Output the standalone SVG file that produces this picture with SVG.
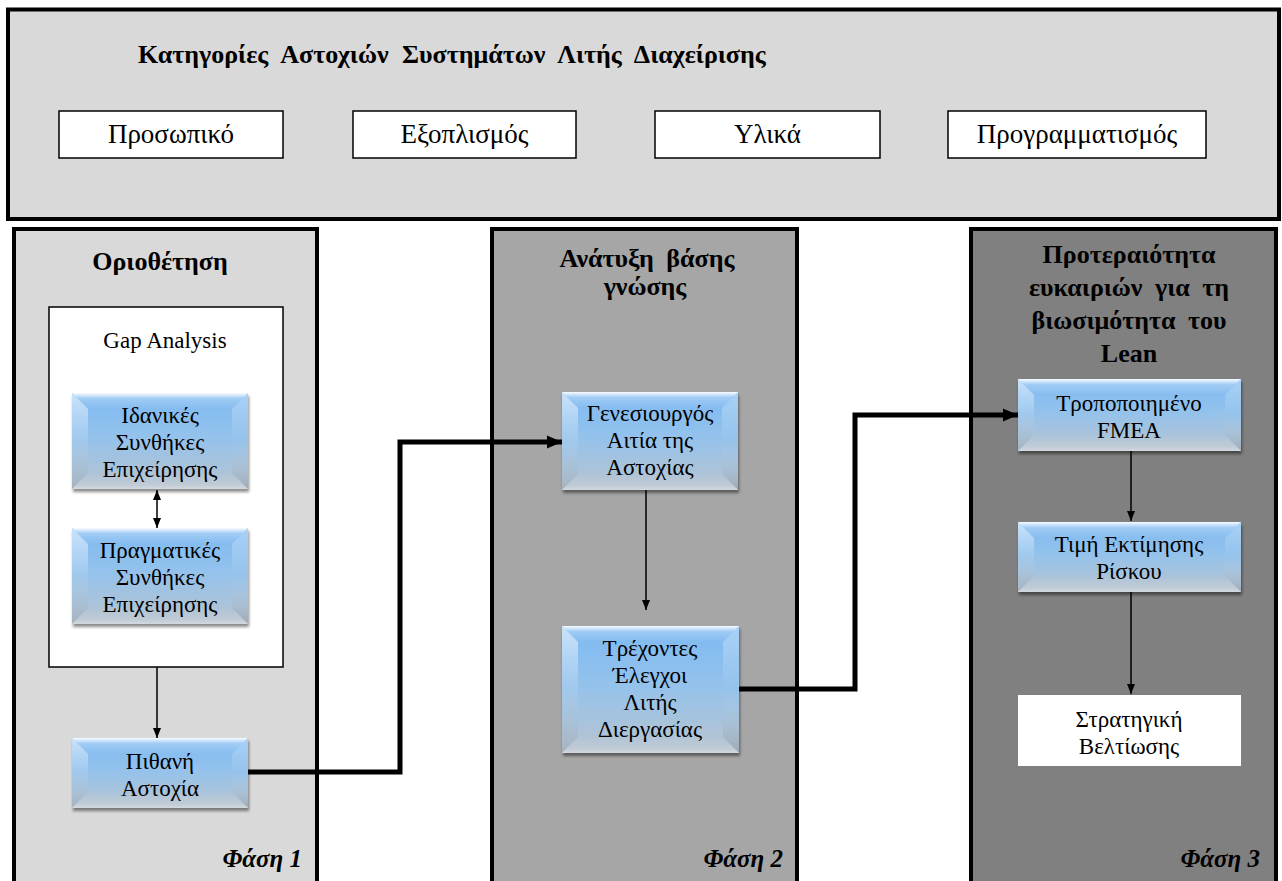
<svg xmlns="http://www.w3.org/2000/svg" width="1282" height="881" viewBox="0 0 1282 881">
  <style>
    text { font-family: "Liberation Serif", "DejaVu Serif", serif; fill: #000; }
    .title { font-size: 26px; font-weight: bold; word-spacing: 7px; }
    .cat { font-size: 27px; text-anchor: middle; }
    .ph { font-size: 26px; font-weight: bold; text-anchor: middle; word-spacing: 6px; }
    .lbl { font-size: 23px; text-anchor: middle; }
    .phase { font-size: 25px; font-weight: bold; font-style: italic; text-anchor: end; }
    .panel { stroke: #000; stroke-width: 4; }
    .catbox { fill: #fff; stroke: #000; stroke-width: 1.5; }
    .base { fill: url(#gBase); filter: url(#shadow); }
    .bt { fill: url(#gTop); }
    .bl { fill: url(#gLeft); }
    .br { fill: url(#gRight); }
    .bb { fill: url(#gBot); }
    .thin { fill: none; stroke: #000; stroke-width: 1.5; }
    .thick { fill: none; stroke: #000; stroke-width: 5; stroke-linejoin: miter; }
  </style>
  <defs>
    <linearGradient id="gBase" x1="0" y1="0" x2="0" y2="1">
      <stop offset="0" stop-color="#7db9f2"/>
      <stop offset="0.45" stop-color="#93c2ec"/>
      <stop offset="1" stop-color="#b8c4cf"/>
    </linearGradient>
    <linearGradient id="gTop" x1="0" y1="0" x2="0" y2="1">
      <stop offset="0" stop-color="#fff" stop-opacity="0.95"/>
      <stop offset="0.35" stop-color="#fff" stop-opacity="0.25"/>
      <stop offset="1" stop-color="#fff" stop-opacity="0"/>
    </linearGradient>
    <linearGradient id="gLeft" x1="0" y1="0" x2="0" y2="1">
      <stop offset="0" stop-color="#fff" stop-opacity="0.6"/>
      <stop offset="0.5" stop-color="#fff" stop-opacity="0.1"/>
      <stop offset="1" stop-color="#5c6b78" stop-opacity="0.2"/>
    </linearGradient>
    <linearGradient id="gRight" x1="0" y1="0" x2="0" y2="1">
      <stop offset="0" stop-color="#fff" stop-opacity="0.35"/>
      <stop offset="0.5" stop-color="#fff" stop-opacity="0"/>
      <stop offset="1" stop-color="#5c6b78" stop-opacity="0.3"/>
    </linearGradient>
    <linearGradient id="gBot" x1="0" y1="0" x2="0" y2="1">
      <stop offset="0" stop-color="#c9d1d8" stop-opacity="0"/>
      <stop offset="0.7" stop-color="#c9d1d8" stop-opacity="0.5"/>
      <stop offset="1" stop-color="#d6dce2" stop-opacity="0.9"/>
    </linearGradient>
    <filter id="shadow" x="-10%" y="-10%" width="125%" height="130%">
      <feDropShadow dx="1" dy="3" stdDeviation="1.8" flood-color="#000" flood-opacity="0.45"/>
    </filter>
    <marker id="ah" markerUnits="userSpaceOnUse" markerWidth="10" markerHeight="10" refX="10" refY="5" orient="auto-start-reverse">
      <path d="M0,1 L10,5 L0,9 z" fill="#000"/>
    </marker>
    <marker id="ahBig" markerUnits="userSpaceOnUse" markerWidth="16" markerHeight="14" refX="15" refY="7" orient="auto">
      <path d="M0,0.5 L15,7 L0,13.5 z" fill="#000"/>
    </marker>
  </defs>

  <rect width="1282" height="881" fill="#fff"/>

  <!-- failure categories header -->
  <g id="categories">
    <rect class="panel" x="8" y="9.5" width="1271" height="209.5" fill="#d9d9d9"/>
    <text class="title" x="138" y="63">Κατηγορίες Αστοχιών Συστημάτων Λιτής Διαχείρισης</text>
    <g id="cat-personnel">
      <rect class="catbox" x="59" y="111" width="224" height="47"/>
      <text class="cat" x="171" y="143">Προσωπικό</text>
    </g>
    <g id="cat-equipment">
      <rect class="catbox" x="353" y="111" width="223" height="47"/>
      <text class="cat" x="464.5" y="143">Εξοπλισμός</text>
    </g>
    <g id="cat-materials">
      <rect class="catbox" x="655" y="111" width="225" height="47"/>
      <text class="cat" x="767.5" y="143">Υλικά</text>
    </g>
    <g id="cat-planning">
      <rect class="catbox" x="948" y="111" width="258" height="47"/>
      <text class="cat" x="1077" y="143">Προγραμματισμός</text>
    </g>
  </g>

  <!-- phase panels -->
  <g id="phase1">
    <rect class="panel" x="14" y="229" width="303" height="680" fill="#d9d9d9"/>
    <text class="ph" x="160" y="270">Οριοθέτηση</text>
    <text class="phase" x="302" y="867">Φάση 1</text>
  </g>
  <g id="phase2">
    <rect class="panel" x="492" y="229" width="305" height="680" fill="#a6a6a6"/>
    <text class="ph" x="647" y="267">Ανάτυξη βάσης</text>
    <text class="ph" x="645" y="295">γνώσης</text>
    <text class="phase" x="783" y="867">Φάση 2</text>
  </g>
  <g id="phase3">
    <rect class="panel" x="971" y="229" width="305" height="680" fill="#808080"/>
    <text class="ph" x="1129" y="263">Προτεραιότητα</text>
    <text class="ph" x="1129" y="296">ευκαιριών για τη</text>
    <text class="ph" x="1129" y="329">βιωσιμότητα του</text>
    <text class="ph" x="1129" y="362">Lean</text>
    <text class="phase" x="1260" y="867">Φάση 3</text>
  </g>

  <!-- gap analysis frame -->
  <g id="gap-analysis">
    <rect x="49" y="307" width="234" height="360" fill="#fff" stroke="#000" stroke-width="1.5"/>
    <text class="lbl" x="165" y="348">Gap Analysis</text>
  </g>

  <!-- bevelled process boxes -->
  <g id="ideal">
    <rect class="base" x="72" y="393" width="176" height="96"/>
    <polygon class="bt" points="72,393 248,393 232,409 88,409"/>
    <polygon class="bl" points="72,393 88,409 88,473 72,489"/>
    <polygon class="br" points="248,393 248,489 232,473 232,409"/>
    <polygon class="bb" points="72,489 248,489 232,473 88,473"/>
    <text class="lbl" x="160" y="423">Ιδανικές</text>
    <text class="lbl" x="160" y="450">Συνθήκες</text>
    <text class="lbl" x="160" y="477">Επιχείρησης</text>
  </g>
  <g id="actual">
    <rect class="base" x="72" y="528" width="176" height="96"/>
    <polygon class="bt" points="72,528 248,528 232,544 88,544"/>
    <polygon class="bl" points="72,528 88,544 88,608 72,624"/>
    <polygon class="br" points="248,528 248,624 232,608 232,544"/>
    <polygon class="bb" points="72,624 248,624 232,608 88,608"/>
    <text class="lbl" x="160" y="558">Πραγματικές</text>
    <text class="lbl" x="160" y="585">Συνθήκες</text>
    <text class="lbl" x="160" y="612">Επιχείρησης</text>
  </g>
  <g id="potential-failure">
    <rect class="base" x="72" y="738" width="176" height="70"/>
    <polygon class="bt" points="72,738 248,738 232,754 88,754"/>
    <polygon class="bl" points="72,738 88,754 88,792 72,808"/>
    <polygon class="br" points="248,738 248,808 232,792 232,754"/>
    <polygon class="bb" points="72,808 248,808 232,792 88,792"/>
    <text class="lbl" x="160" y="769">Πιθανή</text>
    <text class="lbl" x="160" y="796">Αστοχία</text>
  </g>
  <g id="root-cause">
    <rect class="base" x="562" y="392" width="176" height="98"/>
    <polygon class="bt" points="562,392 738,392 722,408 578,408"/>
    <polygon class="bl" points="562,392 578,408 578,474 562,490"/>
    <polygon class="br" points="738,392 738,490 722,474 722,408"/>
    <polygon class="bb" points="562,490 738,490 722,474 578,474"/>
    <text class="lbl" x="650" y="421">Γενεσιουργός</text>
    <text class="lbl" x="650" y="448">Αιτία της</text>
    <text class="lbl" x="650" y="475">Αστοχίας</text>
  </g>
  <g id="current-controls">
    <rect class="base" x="562" y="626" width="177" height="127"/>
    <polygon class="bt" points="562,626 739,626 723,642 578,642"/>
    <polygon class="bl" points="562,626 578,642 578,737 562,753"/>
    <polygon class="br" points="739,626 739,753 723,737 723,642"/>
    <polygon class="bb" points="562,753 739,753 723,737 578,737"/>
    <text class="lbl" x="650" y="656">Τρέχοντες</text>
    <text class="lbl" x="650" y="683">Έλεγχοι</text>
    <text class="lbl" x="650" y="710">Λιτής</text>
    <text class="lbl" x="650" y="737">Διεργασίας</text>
  </g>
  <g id="modified-fmea">
    <rect class="base" x="1018" y="379" width="223" height="72"/>
    <polygon class="bt" points="1018,379 1241,379 1225,395 1034,395"/>
    <polygon class="bl" points="1018,379 1034,395 1034,435 1018,451"/>
    <polygon class="br" points="1241,379 1241,451 1225,435 1225,395"/>
    <polygon class="bb" points="1018,451 1241,451 1225,435 1034,435"/>
    <text class="lbl" x="1129" y="411">Τροποποιημένο</text>
    <text class="lbl" x="1129" y="438">FMEA</text>
  </g>
  <g id="risk-value">
    <rect class="base" x="1018" y="522" width="223" height="70"/>
    <polygon class="bt" points="1018,522 1241,522 1225,538 1034,538"/>
    <polygon class="bl" points="1018,522 1034,538 1034,576 1018,592"/>
    <polygon class="br" points="1241,522 1241,592 1225,576 1225,538"/>
    <polygon class="bb" points="1018,592 1241,592 1225,576 1034,576"/>
    <text class="lbl" x="1129" y="552">Τιμή Εκτίμησης</text>
    <text class="lbl" x="1129" y="579">Ρίσκου</text>
  </g>
  <g id="strategy">
    <rect x="1018" y="695" width="223" height="71" fill="#fff"/>
    <text class="lbl" x="1129" y="727">Στρατηγική</text>
    <text class="lbl" x="1129" y="754">Βελτίωσης</text>
  </g>

  <!-- connectors -->
  <g id="connectors">
    <path class="thin" d="M157,490 V528" marker-start="url(#ah)" marker-end="url(#ah)"/>
    <path class="thin" d="M157,667 V738" marker-end="url(#ah)"/>
    <path class="thin" d="M646,490 V610" marker-end="url(#ah)"/>
    <path class="thin" d="M1131,451 V521" marker-end="url(#ah)"/>
    <path class="thin" d="M1131,592 V694" marker-end="url(#ah)"/>
    <path class="thick" d="M248,772 H400 V442 H562" marker-end="url(#ahBig)"/>
    <path class="thick" d="M739,689 H855 V415 H1018" marker-end="url(#ahBig)"/>
  </g>
</svg>
